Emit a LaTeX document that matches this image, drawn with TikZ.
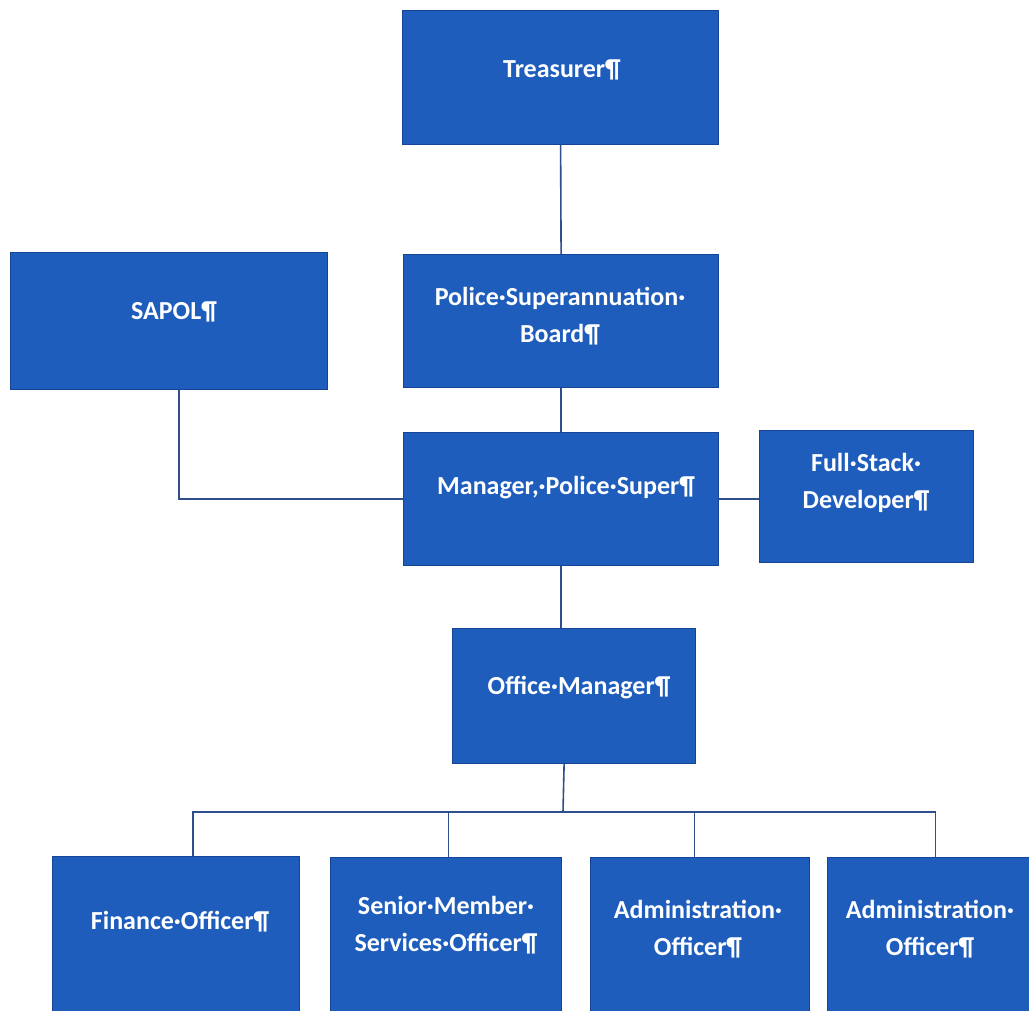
\documentclass[tikz,border=0pt]{standalone}
\usepackage{fontspec}
\setmainfont{Carlito}
\definecolor{boxfill}{RGB}{30,93,188}
\definecolor{boxline}{RGB}{22,68,150}
\definecolor{conn}{RGB}{48,78,140}
\tikzset{
  orgbox/.style={draw=boxline, line width=1.2pt, fill=boxfill, inner sep=0pt, anchor=north west},
  orgtext/.style={text=white, font=\fontsize{26}{37}\selectfont\bfseries, align=center, inner sep=0pt},
  link/.style={draw=conn, line width=1.6pt}
}
\begin{document}
\begin{tikzpicture}[x=1pt,y=-1pt]
\useasboundingbox (0,0) rectangle (1029,1011);
\clip (0,0) rectangle (1029,1011);
\fill[white] (0,0) rectangle (1029,1011);
% boxes
\node[orgbox, minimum width=316, minimum height=134] (tre) at (402,10) {};
\node[orgbox, minimum width=317, minimum height=137] (sap) at (10,252) {};
\node[orgbox, minimum width=315, minimum height=133] (psb) at (403,254) {};
\node[orgbox, minimum width=315, minimum height=133] (man) at (403,432) {};
\node[orgbox, minimum width=214, minimum height=132] (fsd) at (759,430) {};
\node[orgbox, minimum width=243, minimum height=135] (om) at (452,628) {};
\node[orgbox, minimum width=247, minimum height=180] (fin) at (52,856) {};
\node[orgbox, minimum width=231, minimum height=180] (sen) at (330,857) {};
\node[orgbox, minimum width=219, minimum height=180] (ad1) at (590,857) {};
\node[orgbox, minimum width=220, minimum height=180] (ad2) at (827,857) {};
% texts
\node[orgtext] (treT) at (562,70) {Treasurer¶};
\node[orgtext] (sapT) at (174,312) {SAPOL¶};
\node[orgtext] (psbT) at (560,316) {Police·Superannuation·\\Board¶};
\node[orgtext] (manT) at (566,488) {Manager,·Police·Super¶};
\node[orgtext] (fsdT) at (866,483) {Full·Stack·\\Developer¶};
\node[orgtext] (omT) at (579,688) {Office·Manager¶};
\node[orgtext] (finT) at (180,922) {Finance·Officer¶};
\node[orgtext] (senT) at (446,925) {Senior·Member·\\Services·Officer¶};
\node[orgtext] (ad1T) at (698,929) {Administration·\\Officer¶};
\node[orgtext] (ad2T) at (930,929) {Administration·\\Officer¶};
% connectors
\coordinate (bus) at (563,812);
\draw[link] (tre.south) -- (psb.north);
\draw[link] (psb.south) -- (man.north);
\draw[link] ([xshift=10pt]sap.south) |- (man.west);
\draw[link] (man.east) -- (fsd.west |- man.east);
\draw[link] (man.south) -- (om.north -| man.south);
\draw[link] ([xshift=-10pt]om.south) -- (bus);
\draw[link] (bus) -| ([xshift=17pt]fin.north);
\draw[link] (bus) -| ([xshift=2.5pt]sen.north);
\draw[link] (bus) -| ([xshift=-5.5pt]ad1.north);
\draw[link] (bus) -| ([xshift=-2pt]ad2.north);
\end{tikzpicture}
\end{document}
